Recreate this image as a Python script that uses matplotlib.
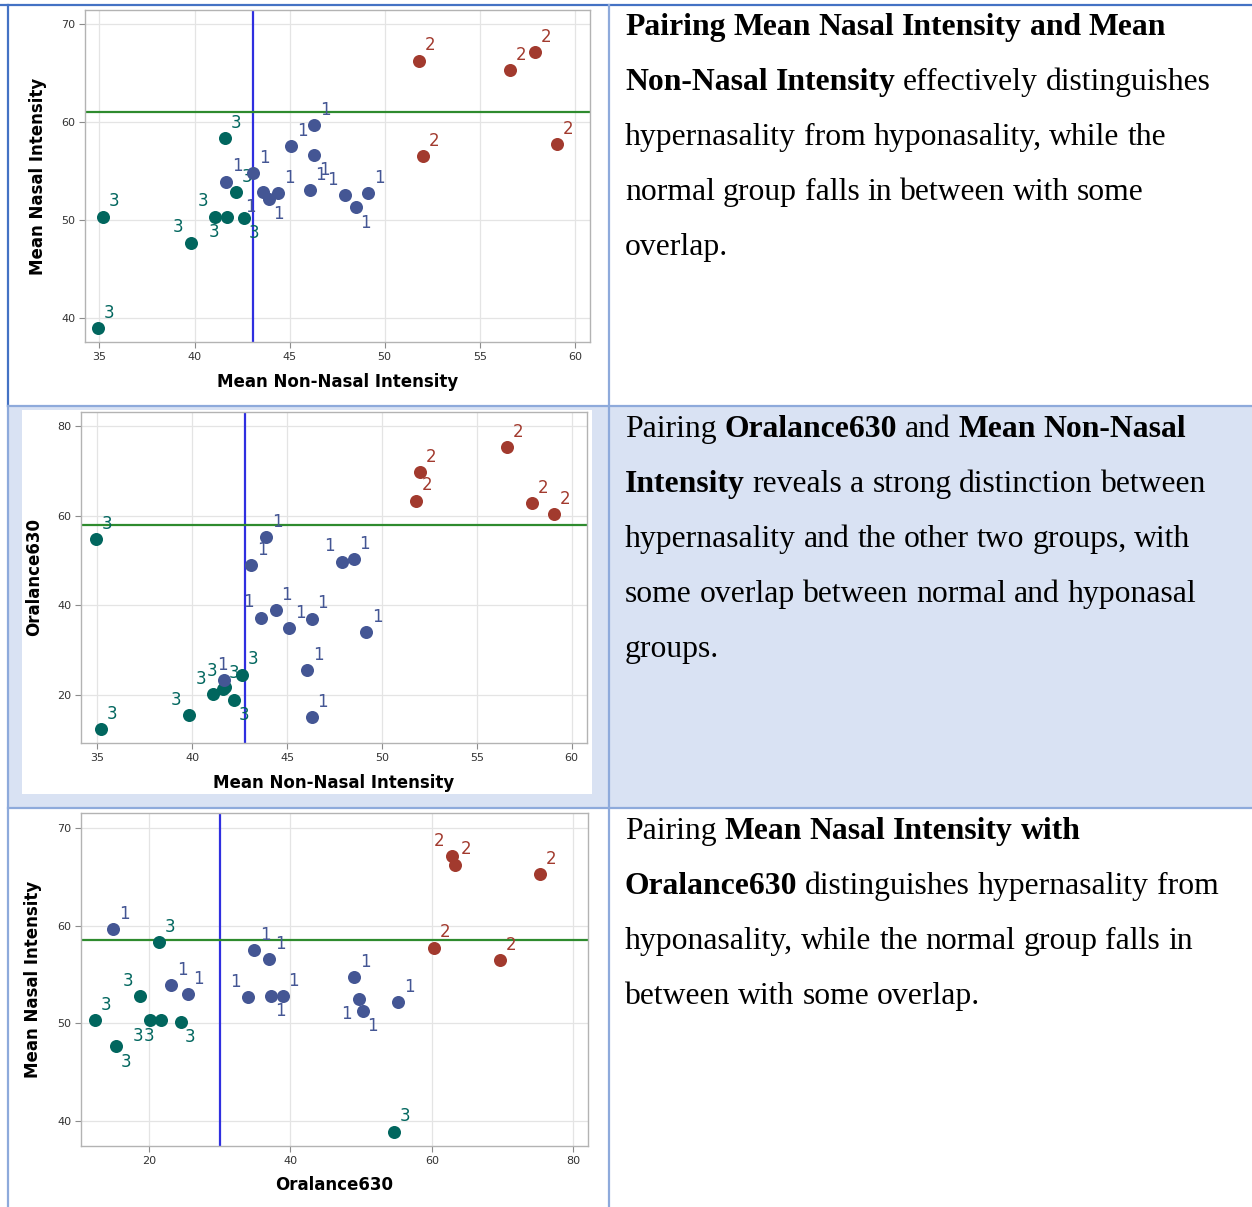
import matplotlib
matplotlib.use("Agg")
import matplotlib.pyplot as plt
from matplotlib.patches import Rectangle
from matplotlib.lines import Line2D

# ---------------------------------------------------------------------------
# Subject measurements (group 1 = normal, 2 = hypernasal, 3 = hyponasal)
# ---------------------------------------------------------------------------
group = [1] * 12 + [2] * 5 + [3] * 8

non_nasal = [41.65, 43.1, 43.6, 43.9, 44.4, 45.1, 46.3, 46.3, 46.05, 47.9, 48.5, 49.15,
             51.8, 52.0, 56.6, 57.9, 59.05,
             34.9, 35.2, 39.8, 41.1, 41.7, 41.6, 42.2, 42.6]

nasal = [53.9, 54.75, 52.85, 52.15, 52.75, 57.5, 59.65, 56.6, 53.0, 52.5, 51.25, 52.7,
         66.25, 56.5, 65.3, 67.15, 57.75,
         38.9, 50.3, 47.65, 50.3, 50.3, 58.3, 52.8, 50.15]

oral630 = [23.2, 49.0, 37.2, 55.2, 38.9, 34.9, 15.0, 37.0, 25.5, 49.7, 50.2, 34.0,
           63.3, 69.6, 75.2, 62.8, 60.3,
           54.7, 12.4, 15.4, 20.2, 21.8, 21.4, 18.8, 24.5]

# Reference (cut-off) lines for each pairing: (vertical x, horizontal y)
cutoffs_nasal_vs_nonnasal = (43.05, 61.05)
cutoffs_oral_vs_nonnasal = (42.8, 57.95)
cutoffs_nasal_vs_oral = (30.05, 58.5)

# Axis labels and ticks
label_nonnasal = "Mean Non-Nasal Intensity"
label_nasal = "Mean Nasal Intensity"
label_oral = "Oralance630"
ticks_nonnasal = [35, 40, 45, 50, 55, 60]
ticks_nasal = [40, 50, 60, 70]
ticks_oral_y = [20, 40, 60, 80]
ticks_oral_x = [20, 40, 60, 80]

# Descriptions (segments: text, bold)
desc1 = [
    [("Pairing Mean Nasal Intensity and Mean", True)],
    [("Non-Nasal Intensity", True), ("effectively distinguishes", False)],
    [("hypernasality from hyponasality, while the", False)],
    [("normal group falls in between with some", False)],
    [("overlap.", False)],
]
desc2 = [
    [("Pairing", False), ("Oralance630", True), ("and", False), ("Mean Non-Nasal", True)],
    [("Intensity", True), ("reveals a strong distinction between", False)],
    [("hypernasality and the other two groups, with", False)],
    [("some overlap between normal and hyponasal", False)],
    [("groups.", False)],
]
desc3 = [
    [("Pairing", False), ("Mean Nasal Intensity with", True)],
    [("Oralance630", True), ("distinguishes hypernasality from", False)],
    [("hyponasality, while the normal group falls in", False)],
    [("between with some overlap.", False)],
]

# Label placement around each point, per panel (same order as the data)
place1 = (["ur", "ur", "ll", "lr", "ur", "ur", "ur", "lr", "ur", "ul", "lr", "ur"]
          + ["ur"] * 5
          + ["ur", "ur", "ul", "ul", "ll", "ur", "ur", "lr"])
place2 = (["u", "ur", "ul", "ur", "ur", "ur", "ur", "ur", "ur", "ul", "ur", "ur"]
          + ["ur"] * 5
          + ["ur", "ur", "ul", "ul", "ul", "ur", "lr", "ur"])
place3 = (["ur", "ur", "lr", "ur", "ur", "ur", "ur", "ur", "ur", "ll", "lr", "ul"]
          + ["ur", "ur", "ur", "ul", "ur"]
          + ["ur", "ur", "lr", "ll", "ll", "ur", "ul", "lr"])

# ---------------------------------------------------------------------------
# Styling
# ---------------------------------------------------------------------------
W, H = 1252, 1207
COLORS = {1: "#445694", 2: "#A23A2E", 3: "#01665E"}
VCOL = "#2f2fe0"
HCOL = "#2e8b2e"
DARK = "#4472C4"
LIGHT = "#8EAADB"
BAND = "#D9E2F3"
OFFS = {"ur": (8, 11), "ul": (-9, 11), "lr": (7, -11), "ll": (-9, -11), "u": (-1, 11)}

fig = plt.figure(figsize=(W / 100, H / 100), dpi=100)
fig.patch.set_facecolor("white")

bg = fig.add_axes([0, 0, 1, 1])
bg.set_xlim(0, W)
bg.set_ylim(H, 0)
bg.axis("off")

# table shading and borders
bg.add_patch(Rectangle((8, 406), W - 8, 402, facecolor=BAND, edgecolor="none", zorder=0))
bg.add_patch(Rectangle((22, 410), 570, 384, facecolor="white", edgecolor="none", zorder=0.5))
bg.add_line(Line2D([0, W], [5, 5], color=DARK, lw=1.6, zorder=2))
bg.add_line(Line2D([8, 8], [5, 406], color=DARK, lw=1.6, zorder=2))
bg.add_line(Line2D([8, 8], [406, H], color=LIGHT, lw=1.6, zorder=2))
bg.add_line(Line2D([609, 609], [5, H], color=LIGHT, lw=1.6, zorder=2))
bg.add_line(Line2D([8, W], [406, 406], color=LIGHT, lw=1.6, zorder=2))
bg.add_line(Line2D([8, W], [808, 808], color=LIGHT, lw=1.6, zorder=2))


def scatter_panel(rect, xs, ys, places, xlim, ylim, xticks, yticks,
                  xlabel, ylabel, cut, ylabel_x):
    l, t, r, b = rect
    ax = fig.add_axes([l / W, 1 - b / H, (r - l) / W, (b - t) / H])
    ax.set_facecolor("white")
    ax.set_xlim(xlim)
    ax.set_ylim(ylim)
    ax.set_xticks(xticks)
    ax.set_yticks(yticks)
    ax.grid(True, color="#e4e4e4", lw=0.9)
    ax.set_axisbelow(True)
    for s in ax.spines.values():
        s.set_color("#b3b3b3")
        s.set_linewidth(1.0)
    ax.tick_params(length=4, width=0.8, color="#8c8c8c", labelsize=8,
                   labelcolor="#333333", pad=3)
    ax.axvline(cut[0], color=VCOL, lw=1.6, zorder=2)
    ax.axhline(cut[1], color=HCOL, lw=1.6, zorder=2)
    for k, g in enumerate((3, 1, 2)):
        idx = [i for i in range(len(group)) if group[i] == g]
        ax.scatter([xs[i] for i in idx], [ys[i] for i in idx], s=88,
                   marker="o", color=COLORS[g], linewidths=0, zorder=3 + 2 * k)
        for i in idx:
            dx, dy = OFFS[places[i]]
            ax.annotate(str(g), (xs[i], ys[i]), xytext=(dx, dy),
                        textcoords="offset points", ha="center", va="center",
                        fontsize=12, color=COLORS[g], zorder=4 + 2 * k)
    ax.set_xlabel(xlabel, fontsize=12, fontweight="bold")
    ax.set_ylabel(ylabel, fontsize=12, fontweight="bold")
    ax.xaxis.label.set_va("center")
    ax.yaxis.label.set_va("center")
    ax.xaxis.set_label_coords(0.5, -39.5 / (b - t))
    ax.yaxis.set_label_coords(ylabel_x, 0.5)
    return ax


scatter_panel((85, 10, 590, 342), non_nasal, nasal, place1,
              (34.24, 60.8), (37.5, 71.43), ticks_nonnasal, ticks_nasal,
              label_nonnasal, label_nasal, cutoffs_nasal_vs_nonnasal, -0.093)
scatter_panel((81, 412, 587, 743), non_nasal, oral630, place2,
              (34.13, 60.81), (9.24, 83.1), ticks_nonnasal, ticks_oral_y,
              label_nonnasal, label_oral, cutoffs_oral_vs_nonnasal, -0.093)
scatter_panel((81, 813, 588, 1146), oral630, nasal, place3,
              (10.43, 82.05), (37.44, 71.54), ticks_oral_x, ticks_nasal,
              label_oral, label_nasal, cutoffs_nasal_vs_oral, -0.095)

# ---------------------------------------------------------------------------
# Description column (mixed bold / regular runs)
# ---------------------------------------------------------------------------
renderer = fig.canvas.get_renderer()
SERIF = "Liberation Serif"
TSIZE = 22.8


def text_width(s, weight):
    t = bg.text(0, 0, s, fontsize=TSIZE, family=SERIF, fontweight=weight)
    w = t.get_window_extent(renderer).width
    t.remove()
    return w


SPACE = {w: text_width("a a", w) - text_width("aa", w) for w in ("normal", "bold")}


def draw_paragraph(lines, x0, y0, step=55):
    for n, segs in enumerate(lines):
        x = x0
        y = y0 + n * step
        tokens = []
        for txt, bold in segs:
            for word in txt.split(" "):
                tokens.append((word, "bold" if bold else "normal"))
        for word, weight in tokens:
            t = bg.text(x, y, word, fontsize=TSIZE, family=SERIF, fontweight=weight,
                        va="baseline", ha="left", color="black", zorder=3)
            x += t.get_window_extent(renderer).width + SPACE[weight]


draw_paragraph(desc1, 625, 35)
draw_paragraph(desc2, 625, 437)
draw_paragraph(desc3, 625, 839)

fig.savefig("out.png", dpi=100, facecolor="white")
